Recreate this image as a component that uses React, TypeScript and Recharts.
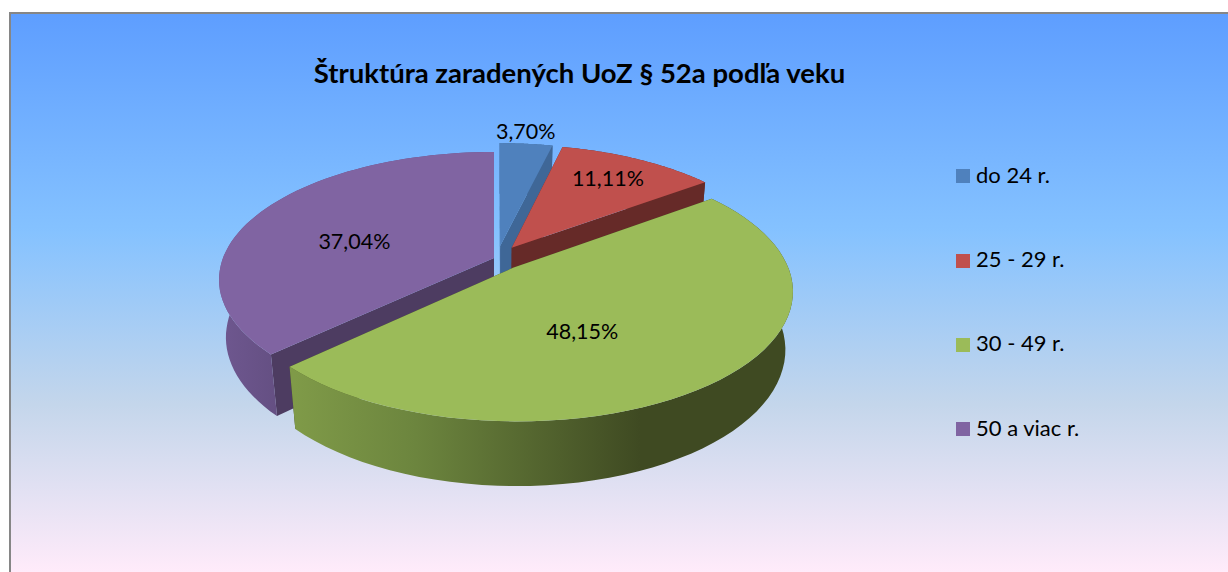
import { Legend, Pie, PieChart } from "recharts";

const categories = ["do 24 r.", "25 - 29 r.", "30 - 49 r.", "50 a viac r."];
const percentages = [3.7, 11.11, 48.15, 37.04];
const colors = ["#4F81BD", "#C0504D", "#9BBB59", "#8064A2"];

// purple goes first so the green slice can sit on top of its inner wall
const drawOrder = [3, 0, 1, 2];
const pieData = drawOrder.map((i) => ({
  name: categories[i],
  value: percentages[i],
  fill: colors[i],
}));
const firstSliceStart = 90 + (percentages[3] / 100) * 360;

// fake 3D: the pie plane is seen tilted and with some perspective
const TILT = 0.4576;
const PERSPECTIVE = 0.17;
const DEPTH = 58.5;
const DEPTH_SHRINK = 0.025;

const sliceLook: Record<
  string,
  {
    explode: number;
    shiftX: number;
    inner: string;
    wall: [number, number, string][];
    r: number;
    dx: number;
    dy: number;
  }
> = {
  "do 24 r.": { explode: 0.1, shiftX: 3, inner: "#3F6797", wall: [[500, 0, "#3F6797"]], r: 1.12, dx: -3, dy: -2 },
  "25 - 29 r.": { explode: 0.1, shiftX: 3, inner: "#662A28", wall: [[560, 0, "#662A28"]], r: 0.75, dx: -2, dy: -1 },
  "30 - 49 r.": {
    explode: 0.1,
    shiftX: 2,
    inner: "#3F4A22",
    wall: [
      [295, 0, "#7F9A48"],
      [420, 0.35, "#6C853E"],
      [640, 1, "#3F4A22"],
    ],
    r: 0.4,
    dx: -7,
    dy: 22,
  },
  "50 a viac r.": {
    explode: 0,
    shiftX: 0,
    inner: "#4D3C61",
    wall: [
      [222, 0, "#6E578F"],
      [280, 1, "#644F82"],
    ],
    r: 0.57,
    dx: -3,
    dy: 10,
  },
};

function project(cx: number, cy: number, R: number, x: number, y: number, z: number) {
  const s = 1 / (1 - PERSPECTIVE * y + DEPTH_SHRINK * z);
  return [cx + R * x * s, cy + (R * TILT * y + DEPTH * z) * s];
}

function toPath(points: number[][]) {
  return "M" + points.map((p) => p[0].toFixed(1) + " " + p[1].toFixed(1)).join("L") + "Z";
}

function Slice3D(props: any) {
  const { cx, cy, outerRadius, startAngle, endAngle, fill, name, index } = props;
  const look = sliceLook[name];
  const rad = Math.PI / 180;
  // recharts angles: 0 = east, counter clockwise
  const mid = ((startAngle + endAngle) / 2) * rad;
  const ox = look.explode * Math.cos(mid);
  const oy = -look.explode * Math.sin(mid);
  const px = cx + look.shiftX;

  const steps = 60;
  const arc = (z: number) => {
    const pts: number[][] = [];
    for (let i = 0; i <= steps; i++) {
      const a = (startAngle + ((endAngle - startAngle) * i) / steps) * rad;
      pts.push(project(px, cy, outerRadius, ox + Math.cos(a), oy - Math.sin(a), z));
    }
    return pts;
  };
  const topArc = arc(0);
  const bottomArc = arc(1);
  const tipTop = project(px, cy, outerRadius, ox, oy, 0);
  const tipBottom = project(px, cy, outerRadius, ox, oy, 1);
  const gradId = "wall-" + index;
  const x1 = look.wall[0][0];
  const x2 = look.wall[look.wall.length - 1][0];

  return (
    <g>
      <defs>
        <linearGradient id={gradId} gradientUnits="userSpaceOnUse" x1={x1} x2={x2 === x1 ? x1 + 1 : x2} y1={0} y2={0}>
          {look.wall.map((w) => (
            <stop key={w[0]} offset={w[1]} stopColor={w[2]} />
          ))}
        </linearGradient>
      </defs>
      <path d={toPath([tipTop, topArc[0], bottomArc[0], tipBottom])} fill={look.inner} />
      <path d={toPath([tipTop, topArc[steps], bottomArc[steps], tipBottom])} fill={look.inner} />
      <path d={toPath([...topArc, ...[...bottomArc].reverse()])} fill={`url(#${gradId})`} />
      <path d={toPath([tipTop, ...topArc])} fill={fill} />
    </g>
  );
}

function SliceLabel(props: any) {
  const { cx, cy, outerRadius, midAngle, name, value } = props;
  const look = sliceLook[name];
  const a = (midAngle * Math.PI) / 180;
  const p = project(
    cx,
    cy,
    outerRadius,
    (look.explode + look.r) * Math.cos(a),
    -(look.explode + look.r) * Math.sin(a),
    0
  );
  return (
    <text
      x={p[0] + look.dx + look.shiftX}
      y={p[1] + look.dy}
      textAnchor="middle"
      dominantBaseline="central"
      fill="#000"
      fontSize={21.5}
      fontFamily="Lato"
    >
      {value.toFixed(2).replace(".", ",") + "%"}
    </text>
  );
}

function LegendBox({ payload }: any) {
  const rows = [...(payload || [])].sort(
    (a: any, b: any) => categories.indexOf(a.value) - categories.indexOf(b.value)
  );
  return (
    <div>
      {rows.map((row: any) => (
        <div key={row.value} style={{ display: "flex", alignItems: "center", height: 84.4 }}>
          <span style={{ width: 14, height: 14, background: row.color, marginRight: 6 }} />
          <span style={{ fontSize: 22, fontFamily: "Lato", color: "#000", position: "relative", top: -2 }}>
            {row.value}
          </span>
        </div>
      ))}
    </div>
  );
}

export default function App() {
  return (
    <div style={{ position: "fixed", left: 0, top: 0, width: 1228, height: 572, background: "#fff", overflow: "hidden" }}>
      <div
        style={{
          position: "absolute",
          left: 9,
          top: 12,
          width: 1230,
          height: 560,
          boxSizing: "border-box",
          borderLeft: "2px solid #868686",
          borderTop: "2px solid #868686",
          background: "linear-gradient(180deg, #5E9EFF 0%, #85C2FF 39%, #C4D6EB 70%, #FFEBFA 100%)",
        }}
      />
      <div
        style={{
          position: "absolute",
          left: 0,
          top: 57,
          width: 1159,
          textAlign: "center",
          fontFamily: "Lato",
          fontWeight: 700,
          fontSize: 27.5,
          lineHeight: "32px",
          color: "#000",
        }}
      >
        Štruktúra zaradených UoZ § 52a podľa veku
      </div>
      <div style={{ position: "absolute", left: 0, top: 0 }}>
        <PieChart width={1228} height={572} margin={{ top: 0, right: 0, bottom: 0, left: 0 }}>
          <Pie
            data={pieData}
            dataKey="value"
            nameKey="name"
            cx={494}
            cy={258}
            outerRadius={271}
            startAngle={firstSliceStart}
            endAngle={firstSliceStart - 360}
            stroke="none"
            shape={Slice3D}
            label={SliceLabel}
            labelLine={false}
            isAnimationActive={false}
          />
          <Legend
            content={LegendBox}
            wrapperStyle={{ position: "absolute", left: 956, top: 134, width: 200, bottom: "auto", right: "auto" }}
          />
        </PieChart>
      </div>
    </div>
  );
}
